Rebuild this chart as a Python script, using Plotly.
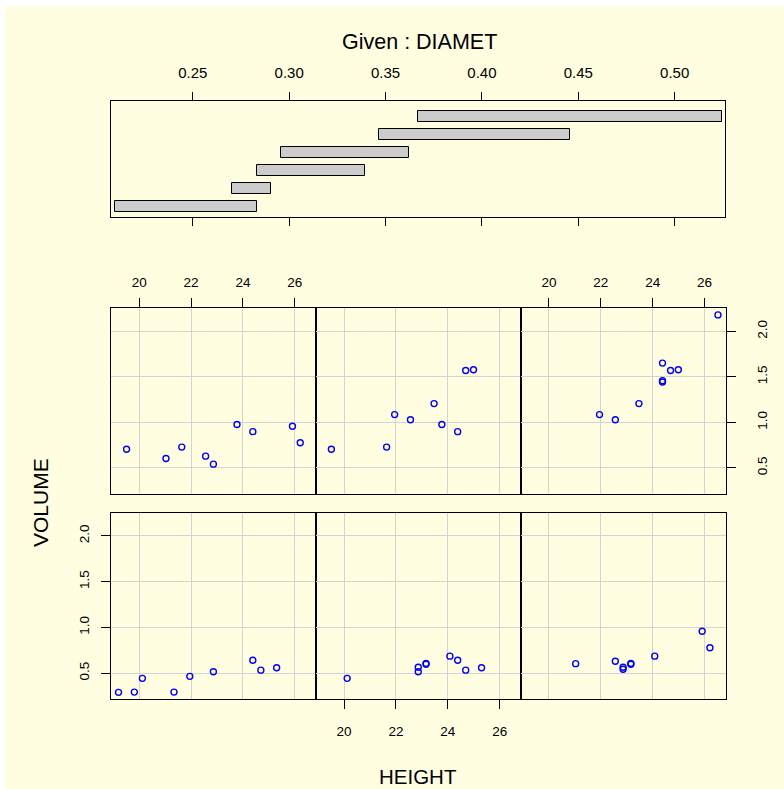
import plotly.graph_objects as go

W, H = 784, 789

# ---- data (trees, metric units) ----
DIAMET = [0.2108, 0.2184, 0.2235, 0.2667, 0.2718, 0.2743, 0.2794, 0.2794, 0.2819, 0.2845,
          0.2870, 0.2896, 0.2896, 0.2972, 0.3048, 0.3277, 0.3277, 0.3378, 0.3480, 0.3505,
          0.3556, 0.3607, 0.3683, 0.4064, 0.4140, 0.4394, 0.4445, 0.4547, 0.4572, 0.4572,
          0.5232]
HEIGHT = [21.34, 19.81, 19.20, 21.95, 24.69, 25.30, 20.12, 22.86, 24.38, 22.86,
          24.08, 23.16, 23.16, 21.03, 22.86, 22.56, 25.91, 26.21, 21.64, 19.51,
          23.77, 24.38, 22.56, 21.95, 23.47, 24.69, 24.99, 24.38, 24.38, 24.38,
          26.52]
VOLUME = [0.292, 0.292, 0.289, 0.464, 0.532, 0.558, 0.442, 0.515, 0.640, 0.564,
          0.685, 0.595, 0.606, 0.603, 0.541, 0.629, 0.957, 0.776, 0.728, 0.705,
          0.977, 0.898, 1.028, 1.085, 1.206, 1.569, 1.577, 1.651, 1.458, 1.444,
          2.180]

GIVEN_LO = [0.2095, 0.2705, 0.2832, 0.2959, 0.3467, 0.3670]
GIVEN_HI = [0.2832, 0.2908, 0.3391, 0.3620, 0.4458, 0.5245]
GIVEN_ROWS = [1, 2, 3, 4, 5, 6]

GIVEN_TICKS = [0.25, 0.30, 0.35, 0.40, 0.45, 0.50]
GIVEN_TICK_LABELS = ["0.25", "0.30", "0.35", "0.40", "0.45", "0.50"]
HEIGHT_TICKS = [20, 22, 24, 26]
HEIGHT_TICK_LABELS = ["20", "22", "24", "26"]
VOLUME_TICKS = [0.5, 1.0, 1.5, 2.0]
VOLUME_TICK_LABELS = ["0.5", "1.0", "1.5", "2.0"]

GIVEN_XRANGE = [0.2076, 0.5261]
GIVEN_YRANGE = [0.40, 6.84]
HEIGHT_RANGE = [18.91, 26.81]
VOLUME_RANGE = [0.213, 2.256]

BG = "#FFFEE0"
FONT = "Liberation Sans, Arial, sans-serif"


def px_x(x):
    return x / W


def px_y(y):
    return 1 - y / H


fig = go.Figure()

# ---- given panel ----
fig.add_trace(go.Bar(
    orientation="h",
    y=GIVEN_ROWS,
    base=GIVEN_LO,
    x=[h - l for l, h in zip(GIVEN_LO, GIVEN_HI)],
    width=0.6,
    marker=dict(color="#CCCCCC", line=dict(color="black", width=1)),
    xaxis="x", yaxis="y", showlegend=False, hoverinfo="skip",
))

layout_axes = {}
layout_axes["xaxis"] = dict(
    domain=[px_x(111), px_x(725)], range=GIVEN_XRANGE, side="top",
    tickmode="array", tickvals=GIVEN_TICKS, ticktext=GIVEN_TICK_LABELS,
    ticks="outside", ticklen=8, tickwidth=1, tickcolor="black",
    showline=True, linecolor="black", linewidth=1, mirror="ticks",
    showgrid=False, zeroline=False, anchor="y",
    tickfont=dict(family=FONT, size=15, color="black"), ticklabelstandoff=8,
)
layout_axes["yaxis"] = dict(
    domain=[px_y(217), px_y(101)], range=GIVEN_YRANGE,
    showticklabels=False, ticks="", showline=True, linecolor="black",
    linewidth=1, mirror=True, showgrid=False, zeroline=False, anchor="x",
)

# ---- conditioning panels ----
col_edges = [111, 315.8, 520.7, 725.5]
row_edges = {0: (512.5, 699.3), 1: (308, 494)}  # 0 = bottom row, 1 = top row

for i in range(6):
    row = i // 3
    col = i % 3
    lo, hi = GIVEN_LO[i], GIVEN_HI[i]
    xs = [h for d, h in zip(DIAMET, HEIGHT) if lo <= d <= hi]
    ys = [v for d, v in zip(DIAMET, VOLUME) if lo <= d <= hi]
    n = i + 2
    xa, ya = f"x{n}", f"y{n}"
    fig.add_trace(go.Scatter(
        x=xs, y=ys, mode="markers", xaxis=xa, yaxis=ya, showlegend=False,
        marker=dict(symbol="circle-open", size=6, color="#0000FF",
                    line=dict(color="#0000FF", width=1.4)),
        hoverinfo="skip",
    ))
    top, bot = row_edges[row]
    xlab = (row == 1 and col in (0, 2)) or (row == 0 and col == 1)
    xside = "top" if row == 1 else "bottom"
    xax = dict(
        domain=[px_x(col_edges[col]), px_x(col_edges[col + 1])],
        range=HEIGHT_RANGE, anchor=ya, side=xside,
        tickmode="array", tickvals=HEIGHT_TICKS, ticktext=HEIGHT_TICK_LABELS,
        showticklabels=xlab, ticks="outside" if xlab else "",
        ticklen=9, tickwidth=1, tickcolor="black",
        showline=True, linecolor="black", linewidth=1, mirror=True,
        showgrid=True, gridcolor="#D3D3D3", gridwidth=1, zeroline=False,
        tickfont=dict(family=FONT, size=13.5, color="black"),
        ticklabelstandoff=(6 if xside == "top" else 10),
    )
    ylab = (row == 0 and col == 0) or (row == 1 and col == 2)
    yside = "left" if row == 0 else "right"
    yax = dict(
        domain=[px_y(bot), px_y(top)], range=VOLUME_RANGE, anchor=xa, side=yside,
        tickmode="array", tickvals=VOLUME_TICKS, ticktext=VOLUME_TICK_LABELS,
        showticklabels=ylab, ticks="outside" if ylab else "",
        ticklen=9, tickwidth=1, tickcolor="black", tickangle=-90,
        showline=True, linecolor="black", linewidth=1, mirror=True,
        showgrid=True, gridcolor="#D3D3D3", gridwidth=1, zeroline=False,
        tickfont=dict(family=FONT, size=13.5, color="black"),
        ticklabelstandoff=(7 if yside == "left" else 15),
    )
    layout_axes[f"xaxis{n}"] = xax
    layout_axes[f"yaxis{n}"] = yax

fig.update_layout(
    width=W, height=H, margin=dict(l=0, r=0, t=0, b=0),
    paper_bgcolor=BG, plot_bgcolor=BG,
    font=dict(family=FONT, color="black"),
    shapes=[
        dict(type="rect", xref="paper", yref="paper", x0=0, x1=1,
             y0=px_y(6), y1=1, fillcolor="white", line=dict(width=0), layer="below"),
        dict(type="rect", xref="paper", yref="paper", x0=0, x1=px_x(5),
             y0=0, y1=1, fillcolor="white", line=dict(width=0), layer="below"),
    ],
    annotations=[
        dict(text="Given : DIAMET", x=px_x(419), y=px_y(42), xref="paper", yref="paper",
             showarrow=False, xanchor="center", yanchor="middle",
             font=dict(family=FONT, size=21.5, color="black")),
        dict(text="VOLUME", x=px_x(40), y=px_y(503), xref="paper", yref="paper",
             showarrow=False, xanchor="center", yanchor="middle", textangle=-90,
             font=dict(family=FONT, size=21, color="black")),
        dict(text="HEIGHT", x=px_x(418), y=px_y(776), xref="paper", yref="paper",
             showarrow=False, xanchor="center", yanchor="middle",
             font=dict(family=FONT, size=20.5, color="black")),
    ],
    bargap=0,
    **layout_axes,
)

fig.write_html("out.html")
